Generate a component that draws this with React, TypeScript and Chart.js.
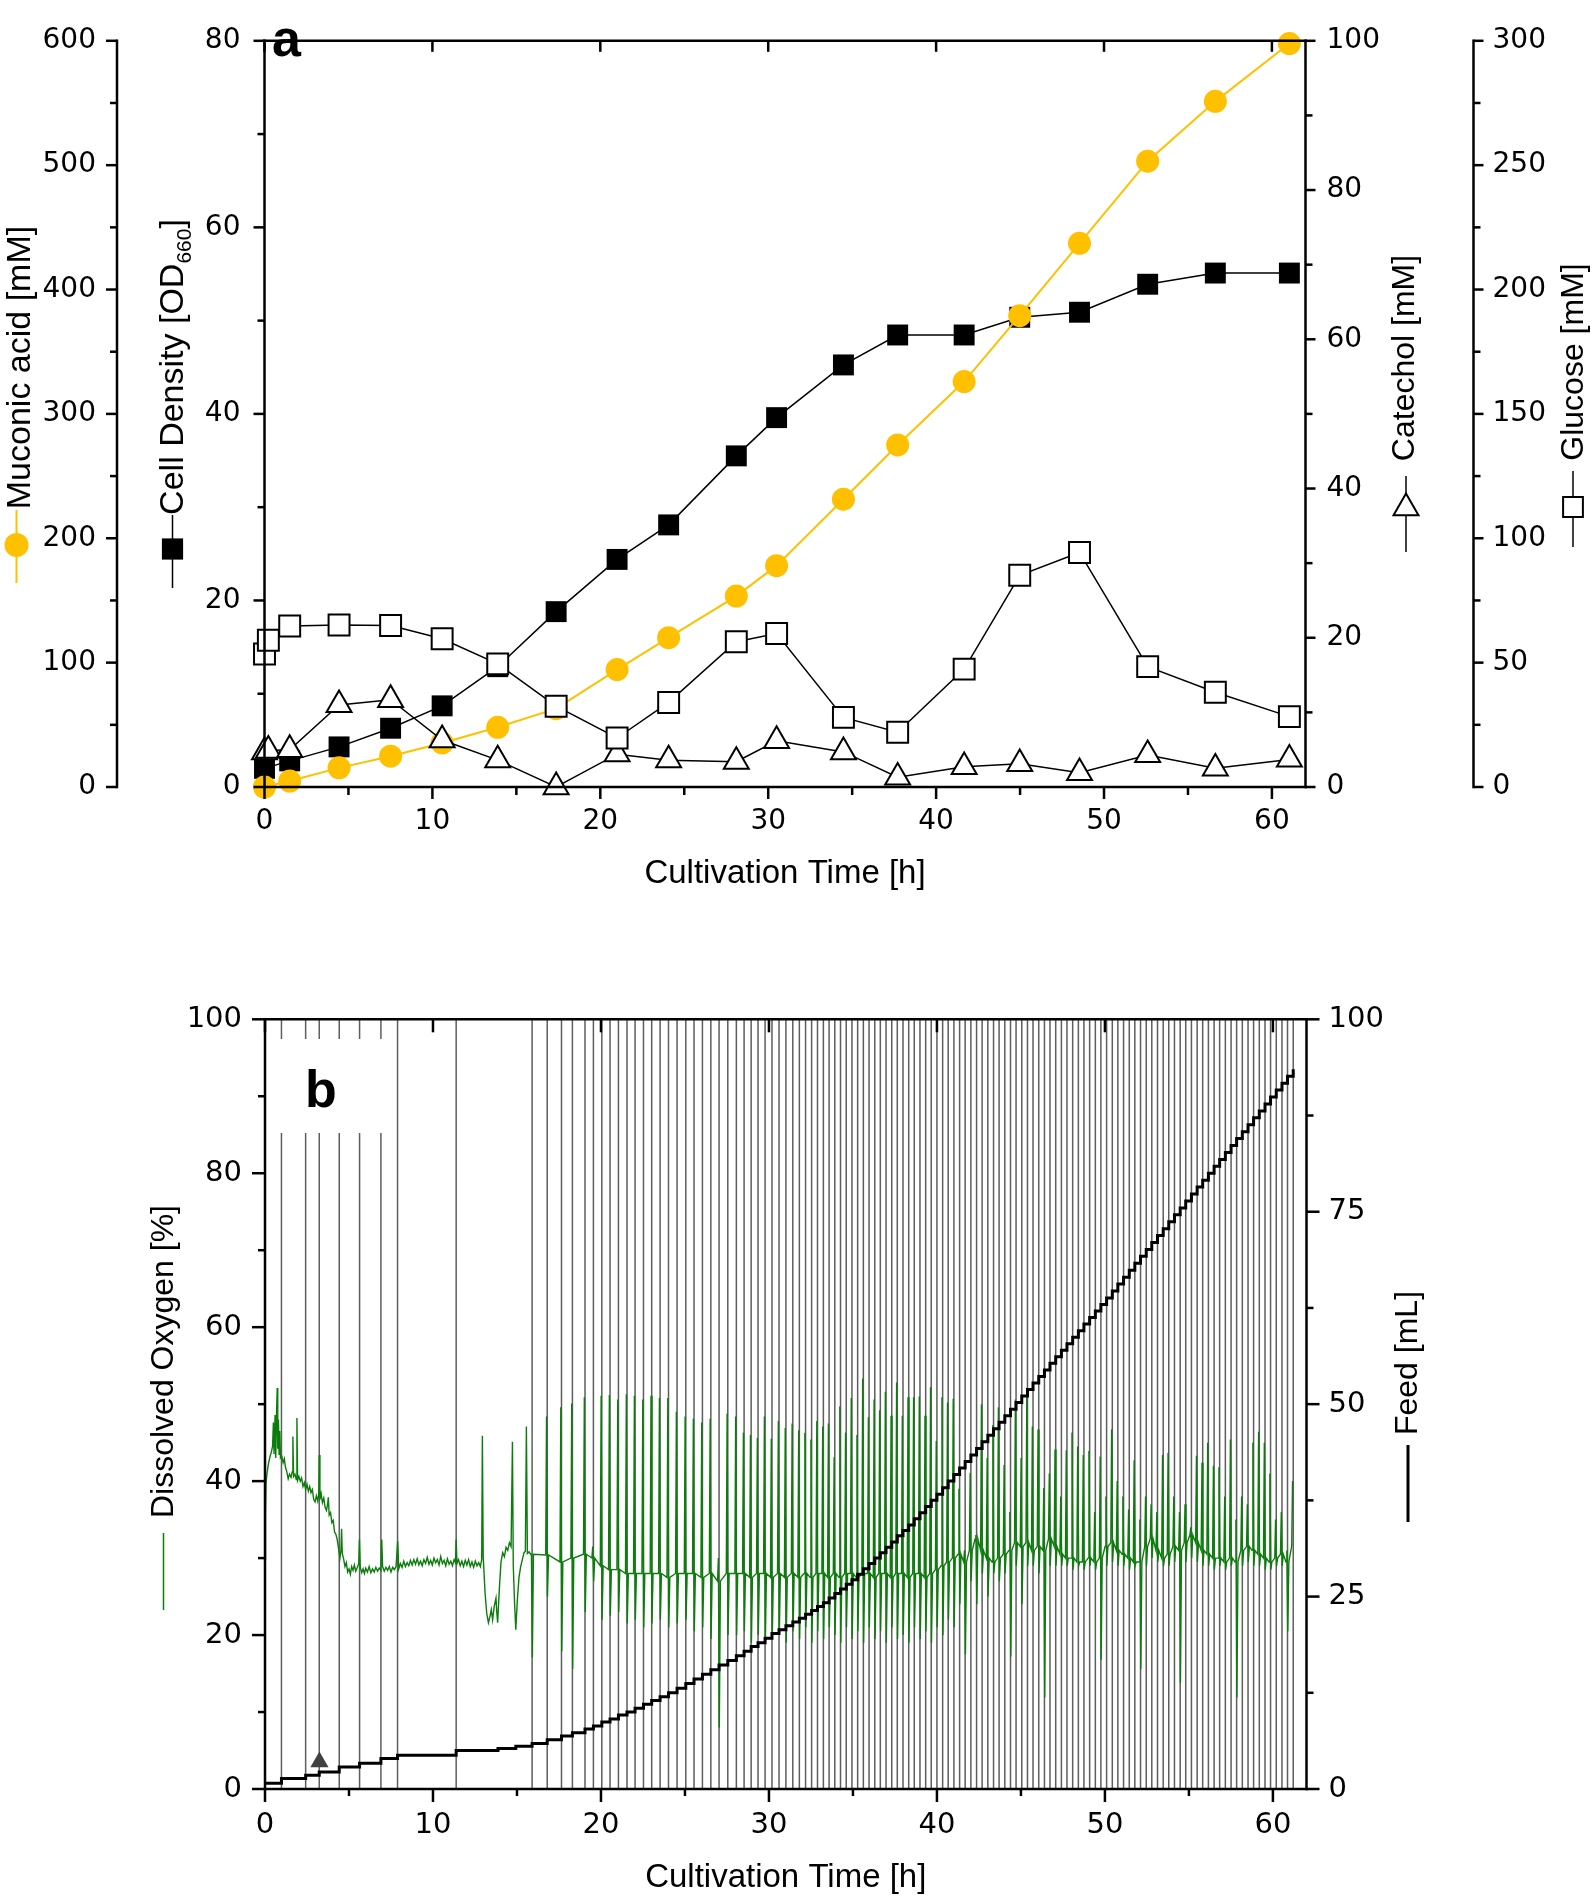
import React, { useEffect, useRef } from 'react';
import { Chart, registerables } from 'chart.js';

Chart.register(...registerables);

const FONT = '"Liberation Sans", Arial, Helvetica, sans-serif';
const TICK_FONT = '"DejaVu Sans", "Liberation Sans", Arial, sans-serif';

// ---------------- Panel a : sampled concentrations ----------------
const SAMPLE_TIME_H = [0, 1.5, 4.44, 7.51, 10.58, 13.89, 17.37, 21.0, 24.07, 28.1, 30.5, 34.48, 37.71, 41.67, 44.98, 48.54, 52.6, 56.63, 61.04];
const SUBSTRATE_TIME_H = [0, 0.23, 1.5, 4.44, 7.51, 10.58, 13.89, 17.37, 21.0, 24.07, 28.1, 30.5, 34.48, 37.71, 41.67, 44.98, 48.54, 52.6, 56.63, 61.04];
const MUCONIC_MM = [0, 4.8, 15.4, 24.8, 35.4, 48, 63, 94.4, 120.1, 153.5, 178, 231.4, 275, 326, 379, 437.2, 503.2, 551.3, 597.8];
const OD660 = [2.0, 2.8, 4.3, 6.3, 8.7, 12.9, 18.8, 24.4, 28.1, 35.5, 39.6, 45.25, 48.46, 48.46, 50.36, 50.9, 53.9, 55.1, 55.1];
const GLUCOSE_MM = [53.5, 59, 64.7, 65.1, 64.9, 59.6, 49.5, 32.5, 19.7, 34, 58.4, 61.7, 28, 22, 47.4, 85.1, 94.3, 48.4, 38.1, 28.3];
const CATECHOL_MM = [4.7, 4.9, 5.0, 11.0, 11.7, 6.3, 3.6, 0.0, 4.4, 3.6, 3.4, 6.2, 4.7, 1.3, 2.7, 3.1, 1.9, 4.3, 2.5, 3.7];

// ---------------- Panel b : online data ----------------
const PULSE_TIME_H = [0.98, 2.42, 3.23, 4.42, 5.63, 6.90, 7.89, 11.38, 15.90, 16.80, 17.65, 18.30, 19.05, 19.55, 20.05, 20.54, 21.04, 21.55, 22.03, 22.53, 23.02, 23.52, 24.02, 24.53, 25.05, 25.54, 26.04, 26.54, 27.03, 27.55, 28.06, 28.52, 28.94, 29.35, 29.77, 30.18, 30.60, 31.01, 31.42, 31.81, 32.18, 32.54, 32.89, 33.24, 33.58, 33.92, 34.26, 34.60, 34.94, 35.28, 35.62, 35.96, 36.30, 36.63, 36.97, 37.31, 37.64, 37.98, 38.32, 38.65, 38.99, 39.33, 39.66, 40.00, 40.34, 40.67, 41.01, 41.35, 41.68, 42.02, 42.36, 42.69, 43.03, 43.37, 43.70, 44.04, 44.38, 44.71, 45.05, 45.39, 45.72, 46.06, 46.40, 46.73, 47.07, 47.41, 47.74, 48.08, 48.42, 48.75, 49.09, 49.43, 49.76, 50.10, 50.44, 50.77, 51.11, 51.45, 51.78, 52.12, 52.46, 52.79, 53.13, 53.47, 53.80, 54.14, 54.48, 54.81, 55.15, 55.49, 55.82, 56.16, 56.50, 56.83, 57.17, 57.51, 57.84, 58.18, 58.52, 58.85, 59.19, 59.53, 59.86, 60.20, 60.54, 60.87, 61.21];

// cumulative feed [time h, volume mL]
const FEED_STEPS = [[0, 0.75], [0.98, 1.35], [2.42, 1.8], [3.23, 2.2], [4.42, 2.85], [5.63, 3.35], [6.90, 3.95], [7.89, 4.4], [11.38, 5.0], [13.87, 5.25], [14.93, 5.55], [15.90, 5.9], [16.80, 6.4], [17.65, 6.9], [18.30, 7.3], [19.05, 7.8], [19.55, 8.2], [20.05, 8.7], [20.54, 9.1], [21.04, 9.6], [21.55, 10.0], [22.03, 10.5], [22.53, 11.0], [23.02, 11.5], [23.52, 12.0], [24.02, 12.5], [24.53, 13.1], [25.05, 13.7], [25.54, 14.3], [26.04, 14.9], [26.54, 15.5], [27.03, 16.1], [27.55, 16.7], [28.06, 17.3], [28.52, 17.9], [28.94, 18.5], [29.35, 19.0], [29.77, 19.6], [30.18, 20.2], [30.60, 20.7], [31.01, 21.2], [31.42, 21.7], [31.81, 22.2], [32.18, 22.7], [32.54, 23.2], [32.89, 23.7], [33.24, 24.2], [33.58, 24.8], [33.92, 25.4], [34.26, 26.0], [34.60, 26.6], [34.94, 27.2], [35.28, 27.9], [35.62, 28.6], [35.96, 29.3], [36.30, 30.0], [36.63, 30.7], [36.97, 31.4], [37.31, 32.1], [37.64, 32.9], [37.98, 33.6], [38.32, 34.3], [38.65, 35.1], [38.99, 35.9], [39.33, 36.7], [39.66, 37.5], [40.00, 38.3], [40.34, 39.15], [40.67, 40.0], [41.01, 40.85], [41.35, 41.7], [41.68, 42.55], [42.02, 43.4], [42.36, 44.25], [42.69, 45.1], [43.03, 45.95], [43.37, 46.8], [43.70, 47.65], [44.04, 48.5], [44.38, 49.35], [44.71, 50.2], [45.05, 51.05], [45.39, 51.9], [45.72, 52.75], [46.06, 53.6], [46.40, 54.45], [46.73, 55.3], [47.07, 56.15], [47.41, 57.0], [47.74, 57.85], [48.08, 58.7], [48.42, 59.55], [48.75, 60.4], [49.09, 61.25], [49.43, 62.1], [49.76, 62.95], [50.10, 63.8], [50.44, 64.7], [50.77, 65.6], [51.11, 66.5], [51.45, 67.4], [51.78, 68.3], [52.12, 69.2], [52.46, 70.1], [52.79, 71.0], [53.13, 71.9], [53.47, 72.8], [53.80, 73.7], [54.14, 74.6], [54.48, 75.5], [54.81, 76.4], [55.15, 77.3], [55.49, 78.2], [55.82, 79.1], [56.16, 80.0], [56.50, 80.9], [56.83, 81.8], [57.17, 82.7], [57.51, 83.6], [57.84, 84.5], [58.18, 85.4], [58.52, 86.3], [58.85, 87.2], [59.19, 88.1], [59.53, 89.0], [59.86, 89.9], [60.20, 90.8], [60.54, 91.7], [60.87, 92.6], [61.21, 93.5]];

// dissolved oxygen, batch and early fed-batch phase [time h, %]
const DO_START = [[0.00, 29.8], [0.03, 35.5], [0.06, 39.8], [0.12, 41.0], [0.2, 42.2], [0.3, 43.2], [0.38, 43.8], [0.45, 44.5], [0.5, 47.6], [0.54, 43.5], [0.6, 48.6], [0.64, 43.0], [0.7, 50.0], [0.73, 52.1], [0.76, 44.2], [0.8, 48.0], [0.84, 43.5], [0.88, 46.5], [0.92, 43.0], [1.0, 43.2], [1.08, 42.4], [1.15, 42.9], [1.22, 41.8], [1.3, 41.2], [1.38, 40.3], [1.46, 40.9], [1.55, 40.5], [1.62, 41.2], [1.66, 45.8], [1.7, 40.6], [1.78, 40.9], [1.86, 40.2], [1.9, 48.2], [1.94, 40.1], [2.02, 40.6], [2.1, 40.0], [2.18, 40.4], [2.26, 39.3], [2.34, 39.8], [2.42, 38.9], [2.5, 39.6], [2.58, 38.7], [2.66, 39.3], [2.74, 38.5], [2.82, 38.9], [2.9, 37.6], [2.98, 37.3], [3.06, 38.1], [3.14, 37.4], [3.2, 38.3], [3.23, 43.4], [3.27, 37.6], [3.34, 38.4], [3.42, 37.2], [3.5, 37.8], [3.58, 36.6], [3.66, 36.2], [3.72, 36.9], [3.77, 37.9], [3.82, 35.6], [3.9, 35.9], [3.98, 34.6], [4.06, 34.9], [4.14, 33.4], [4.22, 33.1], [4.3, 32.4], [4.38, 31.2], [4.46, 30.0], [4.52, 31.0], [4.56, 33.8], [4.6, 30.6], [4.68, 29.9], [4.76, 28.9], [4.84, 29.4], [4.92, 28.2], [5.0, 28.6], [5.08, 27.9], [5.16, 28.9], [5.24, 28.4], [5.32, 29.1], [5.4, 28.3], [5.5, 28.8], [5.58, 29.3], [5.62, 32.4], [5.67, 28.8], [5.76, 28.1], [5.84, 28.6], [5.92, 28.0], [6.0, 28.7], [6.1, 28.2], [6.2, 28.9], [6.3, 28.1], [6.4, 28.6], [6.5, 28.2], [6.6, 28.8], [6.7, 28.3], [6.8, 28.7], [6.9, 28.4], [6.95, 32.4], [7.0, 28.9], [7.1, 28.3], [7.2, 28.8], [7.3, 28.4], [7.4, 28.9], [7.5, 28.2], [7.6, 28.8], [7.7, 28.5], [7.8, 28.9], [7.9, 32.2], [7.96, 28.6], [8.06, 29.3], [8.16, 28.8], [8.26, 29.6], [8.36, 28.9], [8.46, 29.4], [8.56, 29.0], [8.66, 29.7], [8.76, 29.1], [8.86, 29.8], [8.96, 29.2], [9.06, 29.9], [9.16, 29.1], [9.26, 29.6], [9.36, 29.0], [9.46, 29.8], [9.56, 29.3], [9.66, 30.1], [9.76, 29.2], [9.86, 29.7], [9.96, 29.1], [10.06, 30.0], [10.16, 29.4], [10.26, 29.8], [10.36, 29.1], [10.46, 30.2], [10.56, 29.3], [10.66, 29.7], [10.76, 29.0], [10.86, 29.9], [10.96, 29.2], [11.06, 29.6], [11.16, 29.0], [11.26, 29.8], [11.34, 29.4], [11.38, 32.4], [11.43, 29.3], [11.52, 29.8], [11.62, 29.0], [11.72, 29.6], [11.82, 28.9], [11.92, 29.7], [12.02, 29.1], [12.12, 29.8], [12.22, 28.9], [12.32, 29.5], [12.42, 28.8], [12.52, 29.6], [12.62, 29.0], [12.72, 29.4], [12.82, 28.9], [12.9, 29.8], [12.94, 45.9], [12.99, 30.2], [13.1, 25.5], [13.2, 22.8], [13.3, 21.6], [13.4, 22.5], [13.47, 23.3], [13.55, 22.0], [13.65, 23.8], [13.75, 24.8], [13.8, 22.9], [13.85, 21.6], [13.95, 26.0], [14.05, 29.5], [14.15, 30.7], [14.25, 30.2], [14.35, 31.4], [14.45, 31.0], [14.55, 32.0], [14.65, 31.5], [14.73, 45.1], [14.78, 29.0], [14.86, 24.0], [14.93, 20.7], [15.02, 24.5], [15.12, 27.5], [15.22, 28.9], [15.32, 29.8], [15.42, 30.7], [15.5, 30.9], [15.56, 47.1], [15.62, 30.6], [15.72, 30.8]];

// dissolved oxygen around each feed pulse [pulse time h, level %, peak %, minimum %]
const DO_PULSES = [[15.90, 30.5, 30.5, 17.1], [16.80, 30.4, 48.4, 25], [17.65, 29.5, 49.6, 17.9], [18.30, 30, 50.1, 15.6], [19.05, 30.5, 50.9, 23], [19.55, 30, 31.5, 27], [20.05, 29, 51.1, 22], [20.54, 28.5, 51.2, 22.5], [21.04, 28.5, 50.6, 23], [21.55, 28, 51.3, 21.5], [22.03, 28, 51.1, 22], [22.53, 28, 50.6, 21], [23.02, 28, 51.1, 21.5], [23.52, 28, 50.8, 22], [24.02, 27.5, 50.8, 21], [24.53, 28, 49, 21.5], [25.05, 28, 48.4, 22], [25.54, 28, 48.1, 20.5], [26.04, 27.5, 47.6, 21], [26.54, 28, 48.1, 19.5], [27.03, 27, 30, 8], [27.55, 28, 48.8, 20], [28.06, 28, 48.4, 20], [28.52, 28, 46.3, 20.5], [28.94, 27.5, 46, 19], [29.35, 28, 45.6, 20], [29.77, 28, 48.4, 19], [30.18, 27.5, 45.5, 19.5], [30.60, 28, 47.8, 20], [31.01, 27.5, 46.9, 19], [31.42, 28, 47.5, 20.5], [31.81, 27.5, 46.6, 19.5], [32.18, 28, 46.3, 21], [32.54, 27.5, 45.4, 19], [32.89, 28, 47.8, 20.5], [33.24, 28, 47.1, 19.5], [33.58, 27.5, 47.5, 21], [33.92, 28, 43.1, 20], [34.26, 27.5, 49.7, 19], [34.60, 28, 46.3, 21], [34.94, 28, 50.8, 19.5], [35.28, 27.5, 46, 20.5], [35.62, 28, 53.3, 19], [35.96, 28, 48.3, 21], [36.30, 27.5, 50.6, 19.5], [36.63, 28, 49.2, 20.5], [36.97, 28, 51.6, 19], [37.31, 27.5, 48.5, 21], [37.64, 28, 52.8, 19.5], [37.98, 28, 48.5, 20], [38.32, 27.5, 50.9, 19], [38.65, 28, 50.9, 21], [38.99, 28, 51, 19.5], [39.33, 27.5, 48.5, 20.5], [39.66, 28, 52.2, 19], [40.00, 28.5, 45.2, 21], [40.34, 29, 50.9, 20], [40.67, 29.5, 50.2, 22], [41.01, 30, 50.7, 21], [41.35, 30.5, 39, 24], [41.68, 29.5, 31, 17.5], [42.02, 31, 41.1, 27], [42.36, 32.5, 33, 24], [42.69, 31, 50, 28], [43.03, 30, 43, 25], [43.37, 29.5, 47.3, 28], [43.70, 30, 49.6, 27], [44.04, 30.5, 42.1, 28], [44.38, 31, 36, 17.2], [44.71, 32, 50.6, 29], [45.05, 31.5, 43, 24], [45.39, 32, 51.1, 29], [45.72, 31, 47.1, 29], [46.06, 31.5, 46.7, 28], [46.40, 31, 39.1, 11.9], [46.73, 32.5, 41, 29], [47.07, 31.5, 44.1, 29], [47.41, 30.5, 38, 29], [47.74, 30, 44, 29], [48.08, 30, 46.3, 28.5], [48.42, 29.5, 44.5, 29], [48.75, 29.5, 43.4, 28.5], [49.09, 30, 43.9, 29], [49.43, 29.5, 36, 28.5], [49.76, 30, 43.2, 16.8], [50.10, 31.5, 38, 29], [50.44, 32, 46.7, 29.5], [50.77, 31, 40, 29], [51.11, 30.5, 38, 29], [51.45, 30, 36.3, 28.5], [51.78, 29.5, 42.7, 29], [52.12, 29.5, 35, 15.6], [52.46, 31.5, 38, 29], [52.79, 32.5, 37, 30], [53.13, 31, 36, 29.5], [53.47, 30, 43.4, 29], [53.80, 30.5, 43.7, 29], [54.14, 31.5, 38, 29.5], [54.48, 31, 36, 13.8], [54.81, 32, 37, 29.5], [55.15, 33, 34, 30], [55.49, 32, 43.3, 29.5], [55.82, 31, 42.4, 29], [56.16, 30.5, 45, 29], [56.50, 30, 42, 28.5], [56.83, 30, 41.8, 29], [57.17, 29.5, 38, 28.5], [57.51, 30, 45.4, 29], [57.84, 29.5, 35, 11.9], [58.18, 31, 38, 29], [58.52, 31.5, 37, 29.5], [58.85, 31, 45, 29], [59.19, 30.5, 46.4, 29], [59.53, 30, 45, 28.5], [59.86, 29.5, 41, 28.5], [60.20, 30, 35, 29], [60.54, 30.5, 36, 29], [60.87, 29.5, 31, 20.5], [61.21, 31.6, 40, 31.6]];

const MARKER_EVENT = [[3.24, 3.5]];

const YELLOW = '#FFC000';
const GREEN = '#0b7d0b';
const AXIS_W = 2.5;

// ---------------- drawing helpers ----------------
function line(ctx: CanvasRenderingContext2D, x1: number, y1: number, x2: number, y2: number) {
  ctx.beginPath();
  ctx.moveTo(x1, y1);
  ctx.lineTo(x2, y2);
  ctx.stroke();
}

function yTicks(ctx: CanvasRenderingContext2D, scale: any, x: number, dir: number, major: number, minor: number, majLen: number, minLen: number) {
  for (let i = 0; ; i++) {
    const v = scale.min + i * minor;
    if (v > scale.max + 1e-9) break;
    const isMajor = Math.abs(v / major - Math.round(v / major)) < 1e-6;
    const y = scale.getPixelForValue(v);
    line(ctx, x, y, x + dir * (isMajor ? majLen : minLen), y);
  }
}

function xTicks(ctx: CanvasRenderingContext2D, scale: any, y: number, dir: number, major: number, minor: number, majLen: number, minLen: number) {
  for (let i = 0; ; i++) {
    const v = scale.min + i * minor;
    if (v > scale.max + 1e-9) break;
    const isMajor = Math.abs(v / major - Math.round(v / major)) < 1e-6;
    const x = scale.getPixelForValue(v);
    line(ctx, x, y, x, y + dir * (isMajor ? majLen : minLen));
  }
}

type Part = { text: string; sub?: boolean };

function vTitle(ctx: CanvasRenderingContext2D, parts: Part[], cx: number, cy: number, size: number) {
  ctx.save();
  ctx.translate(cx, cy);
  ctx.rotate(-Math.PI / 2);
  ctx.fillStyle = '#000';
  ctx.textBaseline = 'middle';
  ctx.textAlign = 'left';
  const fontOf = (p: Part) => `${p.sub ? Math.round(size * 0.62) : size}px ${FONT}`;
  const widths = parts.map((p) => {
    ctx.font = fontOf(p);
    return ctx.measureText(p.text).width;
  });
  const total = widths.reduce((a, b) => a + b, 0);
  let x = -total / 2;
  parts.forEach((p, i) => {
    ctx.font = fontOf(p);
    ctx.fillText(p.text, x, p.sub ? size * 0.32 : 0);
    x += widths[i];
  });
  ctx.restore();
}

function legendStroke(ctx: CanvasRenderingContext2D, x: number, y1: number, y2: number, color: string, w: number) {
  ctx.save();
  ctx.strokeStyle = color;
  ctx.lineWidth = w;
  line(ctx, x, y1, x, y2);
  ctx.restore();
}

function marker(ctx: CanvasRenderingContext2D, style: string, x: number, y: number, r: number, fill: string, stroke: string, lw: number) {
  ctx.save();
  ctx.fillStyle = fill;
  ctx.strokeStyle = stroke;
  ctx.lineWidth = lw;
  ctx.beginPath();
  if (style === 'circle') {
    ctx.arc(x, y, r, 0, Math.PI * 2);
  } else if (style === 'rect') {
    const s = Math.SQRT1_2 * r;
    ctx.rect(x - s, y - s, 2 * s, 2 * s);
  } else {
    let rad = 0;
    ctx.moveTo(x + Math.sin(rad) * r, y - Math.cos(rad) * r);
    rad += (2 * Math.PI) / 3;
    ctx.lineTo(x + Math.sin(rad) * r, y - Math.cos(rad) * r);
    rad += (2 * Math.PI) / 3;
    ctx.lineTo(x + Math.sin(rad) * r, y - Math.cos(rad) * r);
    ctx.closePath();
  }
  ctx.fill();
  if (lw > 0) ctx.stroke();
  ctx.restore();
}

const tickFont = (size: number) => ({ family: TICK_FONT, size });

function yAxis(position: string, weight: number, max: number, step: number, padding: number, width: number, size: number) {
  return {
    type: 'linear',
    position,
    weight,
    min: 0,
    max,
    grid: { display: false, drawTicks: false, tickLength: 0 },
    border: { display: false },
    ticks: { stepSize: step, padding, color: '#000', font: tickFont(size), includeBounds: false },
    afterFit: (s: any) => {
      s.width = width;
    },
  };
}

function xAxis(height: number, size: number, padding: number, titlePad: number) {
  return {
    type: 'linear',
    position: 'bottom',
    min: 0,
    max: 62,
    grid: { display: false, drawTicks: false, tickLength: 0 },
    border: { display: false },
    ticks: { stepSize: 10, padding, color: '#000', font: tickFont(size), includeBounds: false, maxRotation: 0, autoSkip: false },
    title: { display: true, text: 'Cultivation Time [h]', color: '#000', font: { family: FONT, size: 33 }, padding: { top: 0, bottom: titlePad } },
    afterFit: (s: any) => {
      s.height = height;
    },
  };
}

// ---------------- panel a plugin ----------------
const panelAPlugin = {
  id: 'panelAFrame',
  afterDraw(chart: any) {
    const ctx: CanvasRenderingContext2D = chart.ctx;
    const ca = chart.chartArea;
    const s = chart.scales;
    ctx.save();
    ctx.strokeStyle = '#000';
    ctx.lineWidth = AXIS_W;
    const h = AXIS_W / 2;
    line(ctx, ca.left, ca.top - h, ca.left, ca.bottom + h);
    line(ctx, ca.right, ca.top - h, ca.right, ca.bottom + h);
    line(ctx, s.yMuc.right, ca.top - h, s.yMuc.right, ca.bottom + h);
    line(ctx, s.yGlc.left, ca.top - h, s.yGlc.left, ca.bottom + h);
    line(ctx, ca.left - h, ca.bottom, ca.right + h, ca.bottom);
    line(ctx, ca.left - h, ca.top, ca.right + h, ca.top);
    yTicks(ctx, s.yMuc, s.yMuc.right, -1, 100, 50, 11, 7);
    yTicks(ctx, s.yCell, ca.left, -1, 20, 10, 11, 7);
    yTicks(ctx, s.yCat, ca.right, 1, 20, 10, 10, 7);
    yTicks(ctx, s.yGlc, s.yGlc.left, 1, 50, 25, 10, 7);
    xTicks(ctx, s.x, ca.bottom, 1, 10, 5, 12, 8);
    xTicks(ctx, s.x, ca.top, 1, 10, 10, 11, 11);
    ctx.restore();

    vTitle(ctx, [{ text: 'Muconic acid [mM]' }], 21, 367.5, 34);
    legendStroke(ctx, 16.5, 510, 583, YELLOW, 2);
    marker(ctx, 'circle', 16.5, 545, 12, YELLOW, YELLOW, 0);

    vTitle(ctx, [{ text: 'Cell Density [OD' }, { text: '660', sub: true }, { text: ']' }], 174, 367, 34);
    legendStroke(ctx, 172.5, 515, 588, '#000', 1.5);
    marker(ctx, 'rect', 172.5, 549, 15, '#000', '#000', 0);

    vTitle(ctx, [{ text: 'Catechol [mM]' }], 1405, 358, 32);
    legendStroke(ctx, 1406, 476, 552, '#000', 1.5);
    marker(ctx, 'triangle', 1406, 508, 14.4, '#fff', '#000', 2);

    vTitle(ctx, [{ text: 'Glucose [mM]' }], 1574, 362, 32);
    legendStroke(ctx, 1573, 471, 547, '#000', 1.5);
    marker(ctx, 'rect', 1573, 507, 14, '#fff', '#000', 2);

    ctx.save();
    ctx.fillStyle = '#000';
    ctx.font = `bold 52px ${FONT}`;
    ctx.textBaseline = 'alphabetic';
    ctx.textAlign = 'left';
    ctx.fillText('a', 272, 56);
    ctx.restore();
  },
};

// ---------------- panel b plugin ----------------
const B_OFF = 930;
const panelBPlugin = {
  id: 'panelBFrame',
  afterDraw(chart: any) {
    const ctx: CanvasRenderingContext2D = chart.ctx;
    const ca = chart.chartArea;
    const s = chart.scales;

    ctx.save();
    ctx.fillStyle = '#fff';
    ctx.fillRect(ca.left + 2, 1039 - B_OFF, 390 - ca.left - 2, 94);
    ctx.fillStyle = '#000';
    ctx.font = `bold 52px ${FONT}`;
    ctx.textBaseline = 'alphabetic';
    ctx.textAlign = 'left';
    ctx.fillText('b', 305, 1107 - B_OFF);
    ctx.restore();

    ctx.save();
    ctx.strokeStyle = '#000';
    ctx.lineWidth = AXIS_W;
    const h = AXIS_W / 2;
    line(ctx, ca.left, ca.top - h, ca.left, ca.bottom + h);
    line(ctx, ca.right, ca.top - h, ca.right, ca.bottom + h);
    line(ctx, ca.left - h, ca.bottom, ca.right + h, ca.bottom);
    line(ctx, ca.left - h, ca.top, ca.right + h, ca.top);
    yTicks(ctx, s.yDO, ca.left, -1, 20, 10, 13, 7);
    yTicks(ctx, s.yFeed, ca.right, 1, 25, 12.5, 13, 7);
    xTicks(ctx, s.x, ca.bottom, 1, 10, 5, 13, 7);
    xTicks(ctx, s.x, ca.top, 1, 10, 10, 13, 13);
    ctx.restore();

    vTitle(ctx, [{ text: 'Dissolved Oxygen [%]' }], 164.5, 1361.5 - B_OFF, 32);
    legendStroke(ctx, 163.5, 1533 - B_OFF, 1610 - B_OFF, GREEN, 1.5);

    vTitle(ctx, [{ text: 'Feed [mL]' }], 1408, 1363 - B_OFF, 32);
    legendStroke(ctx, 1408, 1445 - B_OFF, 1522 - B_OFF, '#000', 3);
  },
};

export default function App() {
  const refA = useRef<HTMLCanvasElement | null>(null);
  const refB = useRef<HTMLCanvasElement | null>(null);

  useEffect(() => {
    const pts = (xs: number[], ys: number[]) => xs.map((x, i) => ({ x, y: ys[i] }));

    const chartA = new Chart(refA.current as HTMLCanvasElement, {
      type: 'line',
      data: {
        datasets: [
          {
            label: 'Glucose',
            data: pts(SUBSTRATE_TIME_H, GLUCOSE_MM),
            yAxisID: 'yGlc',
            borderColor: '#000',
            borderWidth: 1.5,
            pointStyle: 'rect',
            pointRadius: 14.8,
            pointBackgroundColor: '#fff',
            pointBorderColor: '#000',
            pointBorderWidth: 2,
            clip: false,
          },
          {
            label: 'Catechol',
            data: pts(SUBSTRATE_TIME_H, CATECHOL_MM),
            yAxisID: 'yCat',
            borderColor: '#000',
            borderWidth: 1.5,
            pointStyle: 'triangle',
            pointRadius: 14.4,
            pointBackgroundColor: '#fff',
            pointBorderColor: '#000',
            pointBorderWidth: 2,
            clip: false,
          },
          {
            label: 'Muconic acid',
            data: pts(SAMPLE_TIME_H, MUCONIC_MM),
            yAxisID: 'yMuc',
            borderColor: YELLOW,
            borderWidth: 2,
            pointStyle: 'circle',
            pointRadius: 11.5,
            pointBackgroundColor: YELLOW,
            pointBorderColor: YELLOW,
            pointBorderWidth: 0,
            clip: false,
          },
          {
            label: 'Cell Density',
            data: pts(SAMPLE_TIME_H, OD660),
            yAxisID: 'yCell',
            borderColor: '#000',
            borderWidth: 1.5,
            pointStyle: 'rect',
            pointRadius: 14.8,
            pointBackgroundColor: '#000',
            pointBorderColor: '#000',
            pointBorderWidth: 0,
            clip: false,
          },
        ],
      },
      options: {
        responsive: false,
        animation: false,
        events: [],
        layout: { padding: { top: 17, left: 0, right: 0, bottom: 0 } },
        plugins: { legend: { display: false }, tooltip: { enabled: false } },
        scales: {
          x: xAxis(143, 28, 18, 36.4),
          yCell: yAxis('left', 1, 80, 20, 24, 147.5, 28),
          yMuc: yAxis('left', 2, 600, 100, 21, 117, 28),
          yCat: yAxis('right', 1, 100, 20, 21, 168, 28),
          yGlc: yAxis('right', 2, 300, 50, 19, 121.5, 28),
        },
      } as any,
      plugins: [panelAPlugin],
    });

    const doData: { x: number; y: number }[] = DO_START.map(([x, y]) => ({ x, y }));
    DO_PULSES.forEach(([t, level, peak, dip], i) => {
      doData.push({ x: t - 0.09, y: level }, { x: t - 0.04, y: peak });
      if (i < DO_PULSES.length - 1) doData.push({ x: t + 0.015, y: dip }, { x: t + 0.08, y: level });
    });
    const pulseData: { x: number; y: number | null }[] = [];
    PULSE_TIME_H.forEach((t) => {
      pulseData.push({ x: t, y: 0 }, { x: t, y: 100 }, { x: t, y: null });
    });

    const chartB = new Chart(refB.current as HTMLCanvasElement, {
      type: 'line',
      data: {
        datasets: [
          {
            label: 'Feed',
            data: FEED_STEPS.map(([x, y]) => ({ x, y })),
            yAxisID: 'yFeed',
            borderColor: '#000',
            borderWidth: 3,
            stepped: 'before',
            pointRadius: 0,
            clip: false,
          },
          {
            label: 'Induction',
            data: MARKER_EVENT.map(([x, y]) => ({ x, y })),
            yAxisID: 'yDO',
            showLine: false,
            pointStyle: 'triangle',
            pointRadius: 10.5,
            pointBackgroundColor: '#404040',
            pointBorderColor: '#404040',
            pointBorderWidth: 0,
            clip: false,
          },
          {
            label: 'Dissolved Oxygen',
            data: doData,
            yAxisID: 'yDO',
            borderColor: GREEN,
            borderWidth: 1.4,
            pointRadius: 0,
            tension: 0,
            clip: false,
          },
          {
            label: 'Feed pulses',
            data: pulseData,
            yAxisID: 'yDO',
            borderColor: '#5e5e5e',
            borderWidth: 1.5,
            pointRadius: 0,
            spanGaps: false,
            clip: false,
          },
        ],
      },
      options: {
        responsive: false,
        animation: false,
        events: [],
        layout: { padding: { top: 89.3, left: 0, right: 0, bottom: 0 } },
        plugins: { legend: { display: false }, tooltip: { enabled: false } },
        scales: {
          x: xAxis(112, 29, 18.6, 3.4),
          yDO: yAxis('left', 1, 100, 20, 23, 265, 29),
          yFeed: yAxis('right', 1, 100, 25, 22, 288.5, 29),
        },
      } as any,
      plugins: [panelBPlugin],
    });

    return () => {
      chartA.destroy();
      chartB.destroy();
    };
  }, []);

  return (
    <div style={{ position: 'absolute', left: 0, top: 0, width: 1595, height: 1901, background: '#fff' }}>
      <canvas ref={refA} width={1595} height={930} style={{ position: 'absolute', left: 0, top: 0, width: 1595, height: 930 }} />
      <canvas ref={refB} width={1595} height={971} style={{ position: 'absolute', left: 0, top: 930, width: 1595, height: 971 }} />
    </div>
  );
}
